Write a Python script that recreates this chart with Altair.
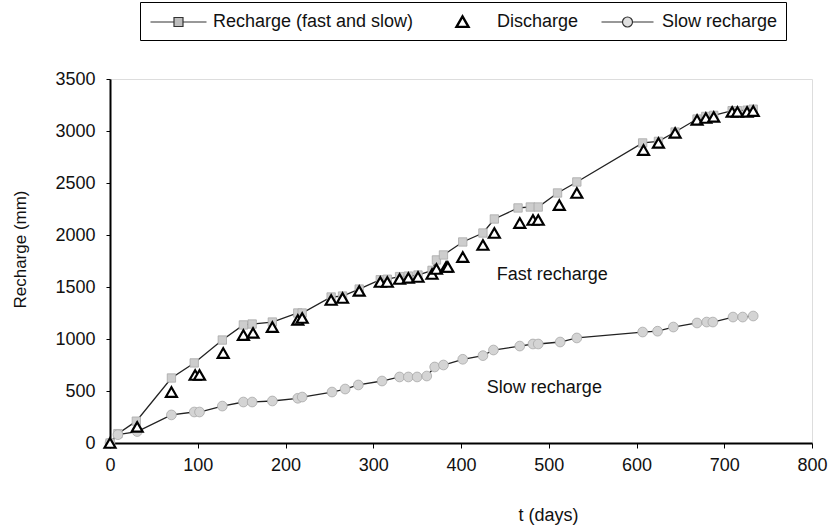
import altair as alt
import pandas as pd

# ---- data ----
recharge_t = [0, 9, 30, 70, 96, 128, 152, 162, 185, 214, 219, 252, 265, 284, 308, 316, 330, 340, 351,
              367, 372, 380, 402, 425, 438, 465, 479, 488, 510, 532, 607, 625, 644, 669, 679, 688,
              709, 715, 726, 733]
recharge_v = [0, 90, 210, 625, 770, 990, 1135, 1144, 1163, 1250, 1250, 1404, 1413, 1480, 1570, 1575,
              1600, 1605, 1615, 1660, 1760, 1808, 1933, 2019, 2154, 2260, 2269, 2269, 2404, 2510,
              2885, 2900, 2990, 3115, 3140, 3150, 3195, 3195, 3200, 3210]

discharge_t = [0, 31, 70, 97, 102, 129, 152, 163, 185, 214, 219, 252, 265, 284, 308, 316, 330, 340,
               351, 367, 372, 383, 385, 402, 425, 438, 467, 482, 488, 512, 532, 608, 625, 644, 669,
               679, 688, 709, 715, 726, 733]
discharge_v = [0, 155, 490, 654, 654, 865, 1038, 1058, 1115, 1183, 1202, 1375, 1394, 1462, 1548,
               1548, 1577, 1587, 1596, 1625, 1673, 1692, 1692, 1788, 1904, 2019, 2115, 2144, 2144,
               2288, 2404, 2817, 2885, 2981, 3106, 3125, 3135, 3183, 3183, 3183, 3192]

slow_t = [0, 9, 31, 70, 96, 102, 128, 152, 162, 185, 214, 219, 253, 268, 283, 310, 330, 340, 350,
          361, 370, 380, 402, 425, 437, 467, 482, 488, 513, 532, 607, 624, 642, 669, 680, 687,
          710, 721, 733]
slow_v = [0, 80, 110, 270, 298, 298, 355, 394, 394, 404, 430, 442, 490, 519, 558, 596, 635, 635,
          635, 644, 731, 750, 805, 840, 894, 932, 952, 952, 971, 1010, 1067, 1075, 1115, 1154,
          1163, 1163, 1211, 1211, 1221]

ann_label = ["Fast recharge", "Slow recharge"]
ann_t = [504, 495]
ann_v = [1615, 529]

series_names = ["Recharge (fast and slow)", "Discharge", "Slow recharge"]

FONT = "Liberation Sans"

rech = pd.DataFrame({"t": recharge_t, "v": recharge_v})
dis = pd.DataFrame({"t": discharge_t, "v": discharge_v})
slow = pd.DataFrame({"t": slow_t, "v": slow_v})
ann = pd.DataFrame({"label": ann_label, "t": ann_t, "v": ann_v})
leg = pd.DataFrame({"series": series_names, "t": [0, 0, 0], "v": [0, 0, 0]})

xs = alt.Scale(domain=[0, 800], nice=False, zero=False)
ys = alt.Scale(domain=[0, 3500], nice=False)

x_enc = alt.X("t:Q", scale=xs, axis=alt.Axis(
    values=list(range(0, 801, 100)), format="d", labelFlush=False, title="t (days)", grid=False,
    labelFont=FONT, labelFontSize=18, labelColor="#111", labelPadding=8,
    tickSize=5, tickColor="black", domainColor="black", domainWidth=2,
    titleFont=FONT, titleFontSize=18, titleFontWeight="normal", titleColor="#111",
    titleX=438, titleY=72, titleAlign="center", titleBaseline="middle"))
y_enc = alt.Y("v:Q", scale=ys, axis=alt.Axis(
    values=list(range(0, 3501, 500)), format="d", labelFlush=False, title="Recharge (mm)", grid=False,
    labelFont=FONT, labelFontSize=18, labelColor="#111", labelPadding=11,
    tickSize=4, tickColor="black", domainColor="black", domainWidth=2,
    titleFont=FONT, titleFontSize=17, titleFontWeight="normal", titleColor="#111",
    titleX=-90, titleY=170, titleAngle=270, titleAlign="center", titleBaseline="middle"))

rech_line = alt.Chart(rech).mark_line(color="#222", strokeWidth=1.3).encode(x=x_enc, y=y_enc)
rech_pts = alt.Chart(rech).mark_point(shape="square", filled=True, fill="#cdcdcd",
                                      stroke="#a8a8a8", strokeWidth=0.8, size=70, opacity=1
                                      ).encode(x="t:Q", y="v:Q")
slow_line = alt.Chart(slow).mark_line(color="#222", strokeWidth=1.3).encode(x="t:Q", y="v:Q")
slow_pts = alt.Chart(slow).mark_point(shape="circle", filled=True, fill="#d4d4d4",
                                      stroke="#a8a8a8", strokeWidth=0.8, size=95, opacity=1
                                      ).encode(x="t:Q", y="v:Q")
dis_pts = alt.Chart(dis).mark_point(shape="triangle-up", filled=False, fill="white",
                                    stroke="black", strokeWidth=2.2, size=120, opacity=1
                                    ).encode(x="t:Q", y=alt.Y("v:Q"))
ann_txt = alt.Chart(ann).mark_text(font=FONT, fontSize=18, color="#111").encode(
    x="t:Q", y="v:Q", text="label:N")

# legend symbols (unit = 10 px with symbolSize 400), drawn right of the nominal symbol centre
square_sym = "M-0.9,0H1.45M2.35,0H4.7M1.45,-0.45H2.35V0.45H1.45Z"
triangle_sym = "M1.9,-0.55L2.5,0.5H1.3Z"
circle_sym = "M-0.7,0H1.4M2.4,0H4.5M1.4,0A0.5,0.5 0 1,0 2.4,0A0.5,0.5 0 1,0 1.4,0Z"

lg = alt.Legend(title=None, orient="none", legendX=30, legendY=-77, direction="horizontal",
                columns=3, strokeColor="black", fillColor="white", padding=8,
                labelFont=FONT, labelFontSize=18, labelColor="#111", labelOffset=42,
                labelLimit=400, columnPadding=18, symbolOpacity=1, symbolSize=400)

legend_layer = alt.Chart(leg).mark_point(opacity=1).encode(
    x="t:Q", y="v:Q",
    shape=alt.Shape("series:N", scale=alt.Scale(domain=series_names,
                                                range=[square_sym, triangle_sym, circle_sym]), legend=lg),
    fill=alt.Fill("series:N", scale=alt.Scale(domain=series_names,
                                              range=["#bdbdbd", "white", "#e0e0e0"]), legend=lg),
    stroke=alt.Stroke("series:N", scale=alt.Scale(domain=series_names,
                                                  range=["#333333", "black", "#333333"]), legend=lg),
    strokeWidth=alt.StrokeWidth("series:N", scale=alt.Scale(type="ordinal", domain=series_names,
                                                            range=[1.2, 2.4, 1.2]), legend=lg),
).transform_filter("datum.t < 0")

chart = alt.layer(rech_line, slow_line, rech_pts, slow_pts, dis_pts, ann_txt, legend_layer).properties(
    width=702, height=364,
    autosize=alt.AutoSizeParams(type="none"),
    padding={"left": 110, "top": 79, "right": 19, "bottom": 86},
).configure_view(stroke="black", strokeWidth=1.5).configure(background="white")

chart.save("out.html", embed_options={"renderer": "svg", "actions": False})
